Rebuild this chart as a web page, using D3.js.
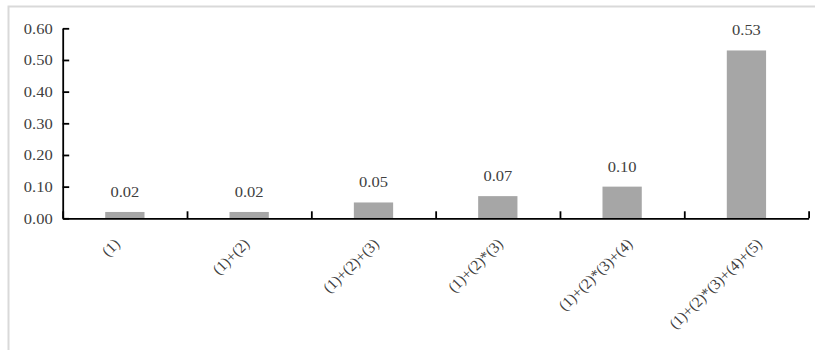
<!DOCTYPE html>
<html>
<head>
<meta charset="utf-8">
<script src="https://cdn.jsdelivr.net/npm/d3@7"></script>
<style>
  html, body { margin: 0; padding: 0; background: #fff; }
  svg { display: block; }
  text { font-family: "Liberation Serif", "Times New Roman", serif; fill: #404040; }
</style>
</head>
<body>
<svg id="chart" width="815" height="350"></svg>
<script>
// Model specifications and their scores
const categories = ["(1)", "(1)+(2)", "(1)+(2)+(3)", "(1)+(2)*(3)", "(1)+(2)*(3)+(4)", "(1)+(2)*(3)+(4)+(5)"];
const values = [0.02, 0.02, 0.05, 0.07, 0.10, 0.53];
const yTicks = [0, 0.1, 0.2, 0.3, 0.4, 0.5, 0.6];

const svg = d3.select("#chart");
const W = 815, H = 350;
const plot = { left: 62.7, right: 808.6, top: 28.3, bottom: 218.3 };
const sx = 1.1;             // horizontal stretch of the upright lettering
const sxRot = 1.03;         // horizontal stretch of the slanted category names
const fmt = d3.format(".2f");

// outer frame
svg.append("rect")
  .attr("x", 8.5).attr("y", 6.5)
  .attr("width", W + 20).attr("height", H + 20)
  .attr("fill", "none").attr("stroke", "#d9d9d9").attr("stroke-width", 2);

const x = d3.scaleBand().domain(categories).range([plot.left, plot.right]).padding(0);
const xEdge = d3.scaleLinear().domain([0, categories.length]).range([plot.left, plot.right]);
const y = d3.scaleLinear().domain([0, 0.6]).range([plot.bottom, plot.top]);

const barW = x.bandwidth() * 0.316;

// bars
svg.append("g").selectAll("rect").data(values).join("rect")
  .attr("x", (d, i) => x(categories[i]) + x.bandwidth() / 2 - barW / 2)
  .attr("y", d => y(d))
  .attr("width", barW)
  .attr("height", d => y(0) - y(d))
  .attr("fill", "#a6a6a6");

// value labels
svg.append("g").selectAll("text").data(values).join("text")
  .attr("transform", (d, i) => `translate(${x(categories[i]) + x.bandwidth() / 2},${y(d) - 15}) scale(${sx},1)`)
  .attr("text-anchor", "middle")
  .attr("font-size", 15)
  .text(d => fmt(d));

// y axis
const yAxis = svg.append("g")
  .attr("transform", `translate(${plot.left},0)`)
  .call(d3.axisLeft(y).tickValues(yTicks).tickSizeInner(-6.5).tickSizeOuter(0).tickFormat(""));
yAxis.selectAll("path, line").attr("stroke", "#000").attr("stroke-width", 1.8);

svg.append("g").selectAll("text").data(yTicks).join("text")
  .attr("transform", d => `translate(${plot.left - 10},${y(d)}) scale(${sx},1)`)
  .attr("text-anchor", "end")
  .attr("dy", "0.35em")
  .attr("font-size", 15)
  .text(d => fmt(d));

// x axis with ticks on category boundaries
const xAxis = svg.append("g")
  .attr("transform", `translate(0,${plot.bottom})`)
  .call(d3.axisBottom(xEdge).tickValues(d3.range(categories.length + 1)).tickSizeInner(-7).tickSizeOuter(0).tickFormat(""));
xAxis.selectAll("path, line").attr("stroke", "#000").attr("stroke-width", 1.8);

// rotated category labels
const labels = svg.append("g").selectAll("text").data(categories).join("text")
  .attr("text-anchor", "end")
  .attr("font-size", 15)
  .text(d => d);
labels.each(function (d) {
  const w = this.getComputedTextLength();
  const cx = x(d) + x.bandwidth() / 2;
  const xe = cx - 7.5 + 0.2 * w;
  d3.select(this).attr("transform", `translate(${xe},${plot.bottom + 26.5}) scale(${sxRot},1) rotate(-45)`);
});
</script>
</body>
</html>
